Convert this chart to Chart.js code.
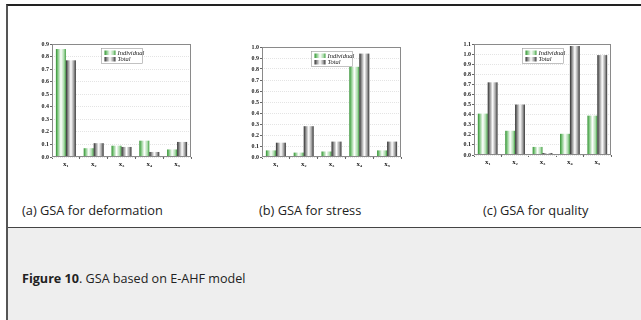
<!DOCTYPE html>
<html>
<head>
<meta charset="utf-8">
<script src="https://cdn.jsdelivr.net/npm/chart.js@4"></script>
<style>
  body { margin: 0; width: 641px; height: 320px; background: #fff; overflow: hidden; position: relative; font-family: "Open Sans", sans-serif; }
  .moldura { position: absolute; left: 6px; top: 4px; right: 0; bottom: 0; border-left: 2px solid #555; border-top: 2px solid #222; }
  .rodape { position: absolute; left: 8px; top: 227px; right: 0; bottom: 0; background: #eeeeee; border-top: 1px solid #444; }
  .legenda { position: absolute; top: 202px; font-size: 12.8px; color: #222; line-height: 16px; white-space: nowrap; }
  .titulo { position: absolute; left: 22px; top: 271px; font-size: 12.6px; color: #222; line-height: 16px; white-space: nowrap; }
  canvas { position: absolute; }
</style>
</head>
<body>
<div class="moldura"></div>
<div class="rodape"></div>
<canvas id="g1"></canvas>
<canvas id="g2"></canvas>
<canvas id="g3"></canvas>
<div class="legenda" style="left:22px">(a) GSA for deformation</div>
<div class="legenda" style="left:259px">(b) GSA for stress</div>
<div class="legenda" style="left:483px">(c) GSA for quality</div>
<div class="titulo"><b>Figure 10</b>. GSA based on E-AHF model</div>
<script>
// Dados
var categorias = ['x\u2081', 'x\u2082', 'x\u2083', 'x\u2084', 'x\u2085'];
var series = ['Individual', 'Total'];

var deformacaoIndividual = [0.86, 0.07, 0.09, 0.13, 0.06];
var deformacaoTotal = [0.77, 0.11, 0.08, 0.04, 0.12];

var tensaoIndividual = [0.06, 0.04, 0.05, 0.82, 0.06];
var tensaoTotal = [0.13, 0.28, 0.14, 0.94, 0.14];

var qualidadeIndividual = [0.41, 0.24, 0.08, 0.21, 0.39];
var qualidadeTotal = [0.72, 0.50, 0.02, 1.08, 0.99];

var maximos = [0.9, 1.0, 1.1];

// area de plotagem de cada grafico (em pixels da pagina)
var caixas = [
  { l: 52, r: 191, t: 44, b: 157 },
  { l: 262, r: 401, t: 47, b: 157 },
  { l: 474, r: 611, t: 44, b: 155 }
];

function gradiente(ctx, x0, x1, verde) {
  var g = ctx.createLinearGradient(x0, 0, x1, 0);
  if (verde) {
    g.addColorStop(0, '#2f8f2f');
    g.addColorStop(0.18, '#7cc47c');
    g.addColorStop(0.5, '#ffffff');
    g.addColorStop(0.82, '#a6d9a6');
    g.addColorStop(1, '#3a9a3a');
  } else {
    g.addColorStop(0, '#2a2a2a');
    g.addColorStop(0.2, '#8a8a8a');
    g.addColorStop(0.5, '#ffffff');
    g.addColorStop(0.8, '#9a9a9a');
    g.addColorStop(1, '#333333');
  }
  return g;
}

// pinta as barras com gradiente, moldura e legenda interna
var pluginEstilo = {
  id: 'estilo',
  afterDatasetsDraw: function(chart) {
    var ctx = chart.ctx;
    var area = chart.chartArea;
    ctx.save();
    chart.data.datasets.forEach(function(ds, i) {
      chart.getDatasetMeta(i).data.forEach(function(el) {
        var x0 = el.x - el.width / 2;
        ctx.fillStyle = gradiente(ctx, x0, x0 + el.width, i === 0);
        ctx.fillRect(x0, el.y, el.width, el.base - el.y);
      });
    });
    // moldura
    ctx.strokeStyle = '#8a8a8a';
    ctx.lineWidth = 1;
    ctx.strokeRect(area.left + 0.5, area.top + 0.5, area.right - area.left - 1, area.bottom - area.top - 1);
    // legenda
    var w = 41, h = 15;
    var lx = Math.round((area.left + area.right) / 2 - w / 2) + 0.5;
    var ly = area.top + 4.5;
    ctx.fillStyle = '#ffffff';
    ctx.fillRect(lx, ly, w, h);
    ctx.strokeStyle = '#9a9a9a';
    ctx.lineWidth = 0.6;
    ctx.strokeRect(lx, ly, w, h);
    series.forEach(function(nome, i) {
      var sy = ly + 2 + i * 6.5;
      ctx.fillStyle = gradiente(ctx, lx + 3, lx + 14, i === 0);
      ctx.fillRect(lx + 3, sy, 11, 4.5);
      ctx.fillStyle = '#222';
      ctx.font = 'italic 6.5px "Liberation Serif"';
      ctx.textBaseline = 'middle';
      ctx.fillText(nome, lx + 16, sy + 2.5);
    });
    ctx.restore();
  }
};

function gerarGrafico(id, individual, total, maximo, caixa) {
  var canvas = document.getElementById(id);
  var largura = caixa.r - caixa.l + 33;
  var altura = caixa.b - caixa.t + 27;
  canvas.width = largura;
  canvas.height = altura;
  canvas.style.left = (caixa.l - 24) + 'px';
  canvas.style.top = (caixa.t - 8) + 'px';
  canvas.style.width = largura + 'px';
  canvas.style.height = altura + 'px';

  new Chart(canvas, {
    type: 'bar',
    data: {
      labels: categorias,
      datasets: [
        { label: series[0], data: individual, backgroundColor: 'rgba(0,0,0,0)', borderWidth: 0 },
        { label: series[1], data: total, backgroundColor: 'rgba(0,0,0,0)', borderWidth: 0 }
      ]
    },
    options: {
      responsive: false,
      animation: false,
      devicePixelRatio: 1,
      layout: { padding: { left: 8, right: 9, top: 8, bottom: 7 } },
      plugins: { legend: { display: false }, tooltip: { enabled: false } },
      datasets: { bar: { categoryPercentage: 0.72, barPercentage: 1 } },
      scales: {
        x: {
          afterFit: function(s) { s.height = 12; },
          grid: { drawOnChartArea: false, tickLength: 2, color: '#666' },
          border: { display: false },
          ticks: { padding: 1, color: '#222', font: { family: 'Liberation Serif', size: 7, weight: 'bold' } }
        },
        y: {
          min: 0,
          max: maximo,
          afterFit: function(s) { s.width = 16; },
          grid: { color: '#e4e4e4', tickLength: 2, tickColor: '#666' },
          border: { display: false, dash: [1, 1] },
          ticks: {
            stepSize: 0.1,
            autoSkip: false,
            padding: 1,
            color: '#222',
            font: { family: 'Liberation Serif', size: 6, weight: 'bold' },
            callback: function(v) { return v.toFixed(1); }
          }
        }
      }
    },
    plugins: [pluginEstilo]
  });
}

window.addEventListener('DOMContentLoaded', function() {
  gerarGrafico('g1', deformacaoIndividual, deformacaoTotal, maximos[0], caixas[0]);
  gerarGrafico('g2', tensaoIndividual, tensaoTotal, maximos[1], caixas[1]);
  gerarGrafico('g3', qualidadeIndividual, qualidadeTotal, maximos[2], caixas[2]);
});
</script>
</body>
</html>
